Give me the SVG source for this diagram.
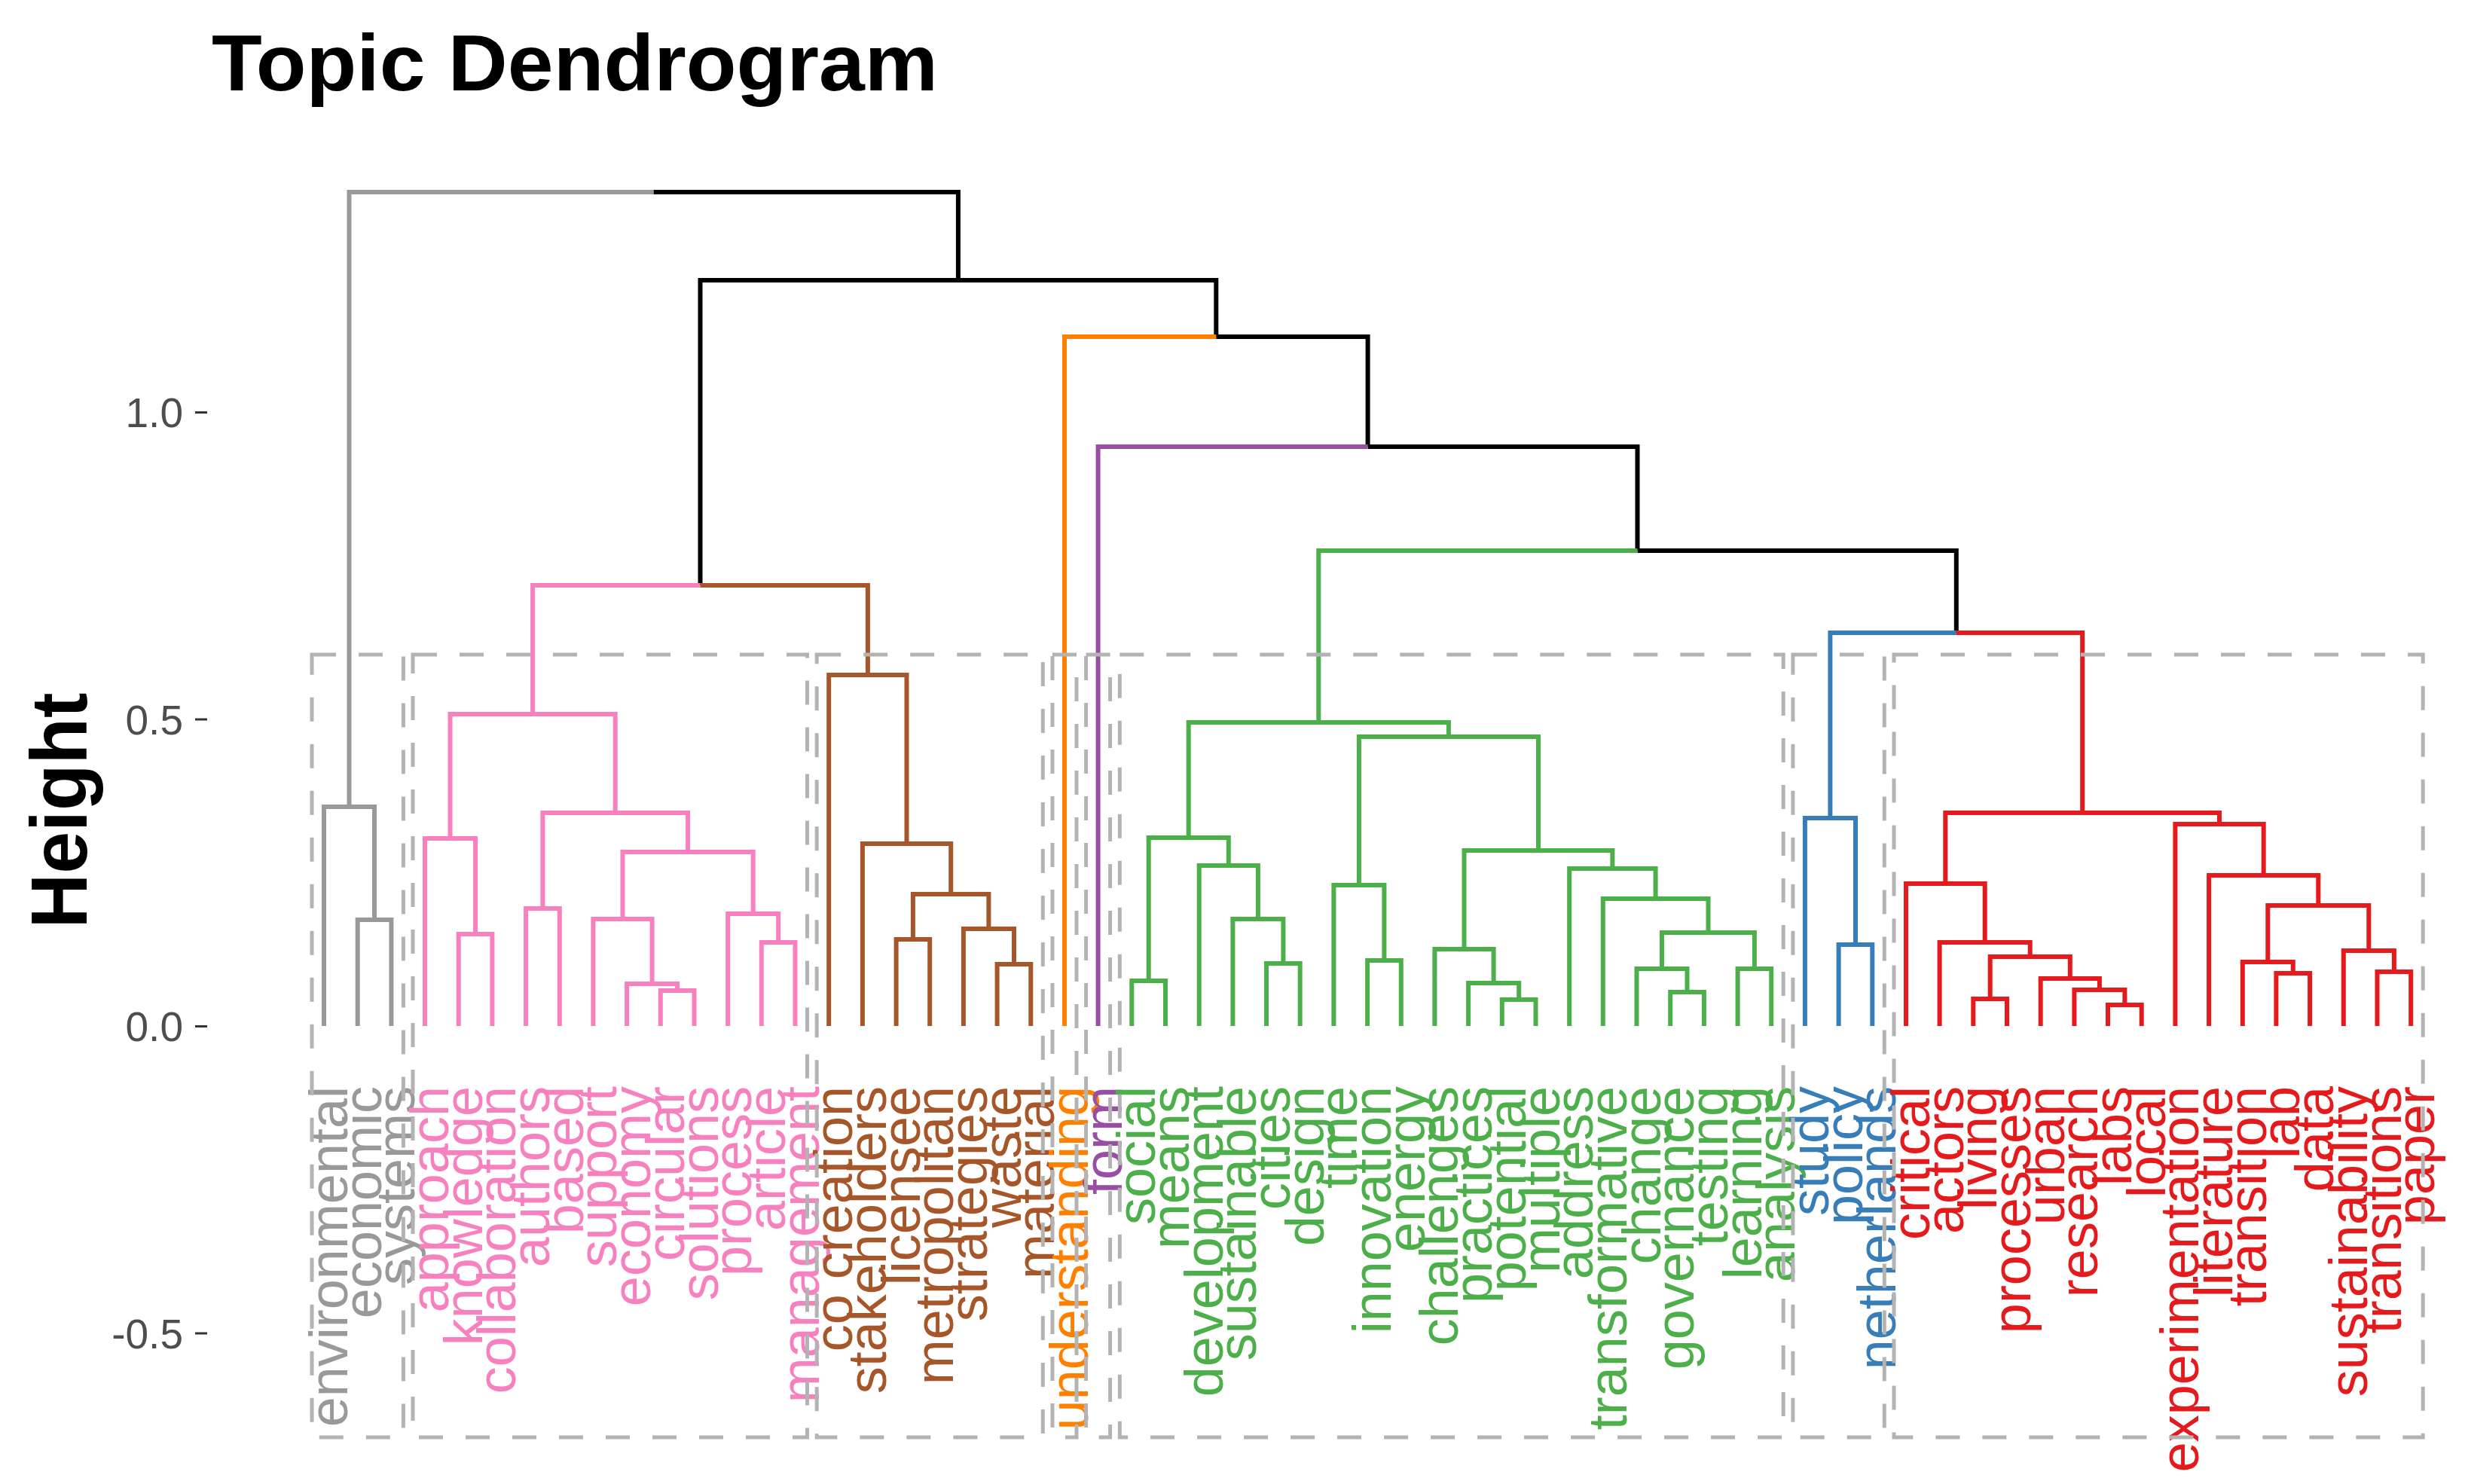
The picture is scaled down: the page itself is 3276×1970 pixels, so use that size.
<svg xmlns="http://www.w3.org/2000/svg" width="3276" height="1970" viewBox="0 0 3276 1970">
<style>
.br{fill:none;stroke-width:6;stroke-linejoin:miter;stroke-linecap:butt}
.gy{stroke:#999999}.bk{stroke:#000000}.or{stroke:#FF7F00}.pu{stroke:#984EA3}
.pk{stroke:#F781BF}.bn{stroke:#A65628}.gn{stroke:#4DAF4A}.bl{stroke:#377EB8}.rd{stroke:#E41A1C}
.lb{font-family:"Liberation Sans",Arial,sans-serif;font-size:72px;text-anchor:end}
.tgy{fill:#999999}.tpk{fill:#F781BF}.tbn{fill:#A65628}.tor{fill:#FF7F00}.tpu{fill:#984EA3}.tgn{fill:#4DAF4A}.tbl{fill:#377EB8}.trd{fill:#E41A1C}
.rc{fill:none;stroke:#B3B3B3;stroke-width:5;stroke-dasharray:32 30}
.tk{font-family:"Liberation Sans",Arial,sans-serif;font-size:55px;fill:#4D4D4D;text-anchor:end}
.tm{stroke:#333333;stroke-width:3}
</style>
<rect width="3276" height="1970" fill="#FFFFFF"/>
<text x="281" y="120" font-family="Liberation Sans, Arial, sans-serif" font-weight="bold" font-size="106" textLength="964" lengthAdjust="spacingAndGlyphs" fill="#000000">Topic Dendrogram</text>
<g id="y-axis">
<text transform="translate(115,1076) rotate(-90)" font-family="Liberation Sans, Arial, sans-serif" font-weight="bold" font-size="106" text-anchor="middle" textLength="313" lengthAdjust="spacingAndGlyphs" fill="#000000">Height</text>
<text class="tk" x="243" y="567">1.0</text>
<text class="tk" x="243" y="975">0.5</text>
<text class="tk" x="243" y="1382">0.0</text>
<text class="tk" x="243" y="1790">-0.5</text>
<line class="tm" x1="259" y1="547.5" x2="275" y2="547.5"/>
<line class="tm" x1="259" y1="955" x2="275" y2="955"/>
<line class="tm" x1="259" y1="1362.5" x2="275" y2="1362.5"/>
<line class="tm" x1="259" y1="1770" x2="275" y2="1770"/>
</g>
<g id="connectors">
<path class="br gy" d="M867.7,255 H463.5 V1071 M463.5,1071 H430 V1362 M463.5,1071 H497 V1221 M497,1221 H474.7 V1362 M497,1221 H519.4 V1362"/>
<path class="br bk" d="M867.7,255 H1271.9 V372 M1271.9,372 H929.5 V777 M1271.9,372 H1614.3 V447 M1614.3,447 H1815.6 V593 M1815.6,593 H2173.5 V731 M2173.5,731 H2596.8 V840"/>
<path class="br or" d="M1614.3,447 H1413 V1362"/>
<path class="br pu" d="M1815.6,593 H1457.6 V1362"/>
<path class="br pk" d="M929.5,777 H707.1 V948 M707.1,948 H597.5 V1113 M707.1,948 H816.7 V1079 M597.5,1113 H564 V1362 M597.5,1113 H631.1 V1240 M631.1,1240 H608.7 V1362 M631.1,1240 H653.4 V1362 M816.7,1079 H720.4 V1206 M720.4,1206 H698.1 V1362 M720.4,1206 H742.8 V1362 M816.7,1079 H913.1 V1131 M913.1,1131 H826.5 V1220 M826.5,1220 H787.4 V1362 M826.5,1220 H865.6 V1306 M865.6,1306 H832.1 V1362 M865.6,1306 H899.1 V1315 M899.1,1315 H876.8 V1362 M899.1,1315 H921.5 V1362 M913.1,1131 H999.7 V1213 M999.7,1213 H966.2 V1362 M999.7,1213 H1033.2 V1251 M1033.2,1251 H1010.8 V1362 M1033.2,1251 H1055.5 V1362"/>
<path class="br bn" d="M929.5,777 H1151.9 V896 M1151.9,896 H1100.2 V1362 M1151.9,896 H1203.5 V1120 M1203.5,1120 H1144.9 V1362 M1203.5,1120 H1262.2 V1187 M1262.2,1187 H1211.9 V1247 M1211.9,1247 H1189.6 V1362 M1211.9,1247 H1234.2 V1362 M1262.2,1187 H1312.4 V1233 M1312.4,1233 H1278.9 V1362 M1312.4,1233 H1346 V1280 M1346,1280 H1323.6 V1362 M1346,1280 H1368.3 V1362"/>
<path class="br gn" d="M2173.5,731 H1750.3 V959 M1750.3,959 H1577.7 V1112 M1577.7,1112 H1524.7 V1302 M1524.7,1302 H1502.3 V1362 M1524.7,1302 H1547 V1362 M1577.7,1112 H1630.8 V1149 M1630.8,1149 H1591.7 V1362 M1630.8,1149 H1669.9 V1220 M1669.9,1220 H1636.4 V1362 M1669.9,1220 H1703.4 V1279 M1703.4,1279 H1681 V1362 M1703.4,1279 H1725.7 V1362 M1750.3,959 H1922.9 V978 M1922.9,978 H1803.9 V1175 M1803.9,1175 H1770.4 V1362 M1803.9,1175 H1837.4 V1275 M1837.4,1275 H1815.1 V1362 M1837.4,1275 H1859.8 V1362 M1922.9,978 H2042 V1129 M2042,1129 H1943.5 V1260 M1943.5,1260 H1904.4 V1362 M1943.5,1260 H1982.6 V1305 M1982.6,1305 H1949.1 V1362 M1982.6,1305 H2016.2 V1327 M2016.2,1327 H1993.8 V1362 M2016.2,1327 H2038.5 V1362 M2042,1129 H2140.4 V1153 M2140.4,1153 H2083.2 V1362 M2140.4,1153 H2197.6 V1193 M2197.6,1193 H2127.8 V1362 M2197.6,1193 H2267.5 V1238 M2267.5,1238 H2206 V1286 M2206,1286 H2172.5 V1362 M2206,1286 H2239.5 V1317 M2239.5,1317 H2217.2 V1362 M2239.5,1317 H2261.9 V1362 M2267.5,1238 H2328.9 V1286 M2328.9,1286 H2306.6 V1362 M2328.9,1286 H2351.2 V1362"/>
<path class="br bl" d="M2596.8,840 H2429.4 V1086 M2429.4,1086 H2395.9 V1362 M2429.4,1086 H2463 V1254 M2463,1254 H2440.6 V1362 M2463,1254 H2485.3 V1362"/>
<path class="br rd" d="M2596.8,840 H2764.2 V1079 M2764.2,1079 H2582.3 V1173 M2582.3,1173 H2530 V1362 M2582.3,1173 H2634.7 V1251 M2634.7,1251 H2574.6 V1362 M2634.7,1251 H2694.7 V1270 M2694.7,1270 H2641.7 V1326 M2641.7,1326 H2619.3 V1362 M2641.7,1326 H2664 V1362 M2694.7,1270 H2747.8 V1299 M2747.8,1299 H2708.7 V1362 M2747.8,1299 H2786.9 V1314 M2786.9,1314 H2753.4 V1362 M2786.9,1314 H2820.4 V1334 M2820.4,1334 H2798 V1362 M2820.4,1334 H2842.7 V1362 M2764.2,1079 H2946 V1094 M2946,1094 H2887.4 V1362 M2946,1094 H3004.7 V1162 M3004.7,1162 H2932.1 V1362 M3004.7,1162 H3077.3 V1202 M3077.3,1202 H3010.3 V1277 M3010.3,1277 H2976.8 V1362 M3010.3,1277 H3043.8 V1292 M3043.8,1292 H3021.4 V1362 M3043.8,1292 H3066.1 V1362 M3077.3,1202 H3144.3 V1262 M3144.3,1262 H3110.8 V1362 M3144.3,1262 H3177.9 V1290 M3177.9,1290 H3155.5 V1362 M3177.9,1290 H3200.2 V1362"/>
</g>
<g id="leaves">
<g id="leaf-environmental"><text class="lb tgy" transform="translate(461,1442) rotate(-90)">environmental</text></g>
<g id="leaf-economic"><text class="lb tgy" transform="translate(505.7,1442) rotate(-90)">economic</text></g>
<g id="leaf-systems"><text class="lb tgy" transform="translate(550.4,1442) rotate(-90)">systems</text></g>
<g id="leaf-approach"><text class="lb tpk" transform="translate(595,1442) rotate(-90)">approach</text></g>
<g id="leaf-knowledge"><text class="lb tpk" transform="translate(639.7,1442) rotate(-90)">knowledge</text></g>
<g id="leaf-collaboration"><text class="lb tpk" transform="translate(684.4,1442) rotate(-90)">collaboration</text></g>
<g id="leaf-authors"><text class="lb tpk" transform="translate(729.1,1442) rotate(-90)">authors</text></g>
<g id="leaf-based"><text class="lb tpk" transform="translate(773.8,1442) rotate(-90)">based</text></g>
<g id="leaf-support"><text class="lb tpk" transform="translate(818.4,1442) rotate(-90)">support</text></g>
<g id="leaf-economy"><text class="lb tpk" transform="translate(863.1,1442) rotate(-90)">economy</text></g>
<g id="leaf-circular"><text class="lb tpk" transform="translate(907.8,1442) rotate(-90)">circular</text></g>
<g id="leaf-solutions"><text class="lb tpk" transform="translate(952.5,1442) rotate(-90)">solutions</text></g>
<g id="leaf-process"><text class="lb tpk" transform="translate(997.2,1442) rotate(-90)">process</text></g>
<g id="leaf-article"><text class="lb tpk" transform="translate(1041.8,1442) rotate(-90)">article</text></g>
<g id="leaf-management"><text class="lb tpk" transform="translate(1086.5,1442) rotate(-90)">management</text></g>
<g id="leaf-co-creation"><text class="lb tbn" transform="translate(1131.2,1442) rotate(-90)">co creation</text></g>
<g id="leaf-stakeholders"><text class="lb tbn" transform="translate(1175.9,1442) rotate(-90)">stakeholders</text></g>
<g id="leaf-licensee"><text class="lb tbn" transform="translate(1220.6,1442) rotate(-90)">licensee</text></g>
<g id="leaf-metropolitan"><text class="lb tbn" transform="translate(1265.2,1442) rotate(-90)">metropolitan</text></g>
<g id="leaf-strategies"><text class="lb tbn" transform="translate(1309.9,1442) rotate(-90)">strategies</text></g>
<g id="leaf-waste"><text class="lb tbn" transform="translate(1354.6,1442) rotate(-90)">waste</text></g>
<g id="leaf-material"><text class="lb tbn" transform="translate(1399.3,1442) rotate(-90)">material</text></g>
<g id="leaf-understanding"><text class="lb tor" transform="translate(1444,1442) rotate(-90)">understanding</text></g>
<g id="leaf-form"><text class="lb tpu" transform="translate(1488.6,1442) rotate(-90)">form</text></g>
<g id="leaf-social"><text class="lb tgn" transform="translate(1533.3,1442) rotate(-90)">social</text></g>
<g id="leaf-means"><text class="lb tgn" transform="translate(1578,1442) rotate(-90)">means</text></g>
<g id="leaf-development"><text class="lb tgn" transform="translate(1622.7,1442) rotate(-90)">development</text></g>
<g id="leaf-sustainable"><text class="lb tgn" transform="translate(1667.4,1442) rotate(-90)">sustainable</text></g>
<g id="leaf-cities"><text class="lb tgn" transform="translate(1712,1442) rotate(-90)">cities</text></g>
<g id="leaf-design"><text class="lb tgn" transform="translate(1756.7,1442) rotate(-90)">design</text></g>
<g id="leaf-time"><text class="lb tgn" transform="translate(1801.4,1442) rotate(-90)">time</text></g>
<g id="leaf-innovation"><text class="lb tgn" transform="translate(1846.1,1442) rotate(-90)">innovation</text></g>
<g id="leaf-energy"><text class="lb tgn" transform="translate(1890.8,1442) rotate(-90)">energy</text></g>
<g id="leaf-challenges"><text class="lb tgn" transform="translate(1935.4,1442) rotate(-90)">challenges</text></g>
<g id="leaf-practices"><text class="lb tgn" transform="translate(1980.1,1442) rotate(-90)">practices</text></g>
<g id="leaf-potential"><text class="lb tgn" transform="translate(2024.8,1442) rotate(-90)">potential</text></g>
<g id="leaf-multiple"><text class="lb tgn" transform="translate(2069.5,1442) rotate(-90)">multiple</text></g>
<g id="leaf-address"><text class="lb tgn" transform="translate(2114.2,1442) rotate(-90)">address</text></g>
<g id="leaf-transformative"><text class="lb tgn" transform="translate(2158.8,1442) rotate(-90)">transformative</text></g>
<g id="leaf-change"><text class="lb tgn" transform="translate(2203.5,1442) rotate(-90)">change</text></g>
<g id="leaf-governance"><text class="lb tgn" transform="translate(2248.2,1442) rotate(-90)">governance</text></g>
<g id="leaf-testing"><text class="lb tgn" transform="translate(2292.9,1442) rotate(-90)">testing</text></g>
<g id="leaf-learning"><text class="lb tgn" transform="translate(2337.6,1442) rotate(-90)">learning</text></g>
<g id="leaf-analysis"><text class="lb tgn" transform="translate(2382.2,1442) rotate(-90)">analysis</text></g>
<g id="leaf-study"><text class="lb tbl" transform="translate(2426.9,1442) rotate(-90)">study</text></g>
<g id="leaf-policy"><text class="lb tbl" transform="translate(2471.6,1442) rotate(-90)">policy</text></g>
<g id="leaf-netherlands"><text class="lb tbl" transform="translate(2516.3,1442) rotate(-90)">netherlands</text></g>
<g id="leaf-critical"><text class="lb trd" transform="translate(2561,1442) rotate(-90)">critical</text></g>
<g id="leaf-actors"><text class="lb trd" transform="translate(2605.6,1442) rotate(-90)">actors</text></g>
<g id="leaf-living"><text class="lb trd" transform="translate(2650.3,1442) rotate(-90)">living</text></g>
<g id="leaf-processes"><text class="lb trd" transform="translate(2695,1442) rotate(-90)">processes</text></g>
<g id="leaf-urban"><text class="lb trd" transform="translate(2739.7,1442) rotate(-90)">urban</text></g>
<g id="leaf-research"><text class="lb trd" transform="translate(2784.4,1442) rotate(-90)">research</text></g>
<g id="leaf-labs"><text class="lb trd" transform="translate(2829,1442) rotate(-90)">labs</text></g>
<g id="leaf-local"><text class="lb trd" transform="translate(2873.7,1442) rotate(-90)">local</text></g>
<g id="leaf-experimentation"><text class="lb trd" transform="translate(2918.4,1442) rotate(-90)">experimentation</text></g>
<g id="leaf-literature"><text class="lb trd" transform="translate(2963.1,1442) rotate(-90)">literature</text></g>
<g id="leaf-transition"><text class="lb trd" transform="translate(3007.8,1442) rotate(-90)">transition</text></g>
<g id="leaf-lab"><text class="lb trd" transform="translate(3052.4,1442) rotate(-90)">lab</text></g>
<g id="leaf-data"><text class="lb trd" transform="translate(3097.1,1442) rotate(-90)">data</text></g>
<g id="leaf-sustainability"><text class="lb trd" transform="translate(3141.8,1442) rotate(-90)">sustainability</text></g>
<g id="leaf-transitions"><text class="lb trd" transform="translate(3186.5,1442) rotate(-90)">transitions</text></g>
<g id="leaf-paper"><text class="lb trd" transform="translate(3231.2,1442) rotate(-90)">paper</text></g>
</g>
<g id="cluster-boxes">
<rect class="rc" x="414" y="869" width="121.4" height="1039"/>
<rect class="rc" x="548" y="869" width="523.5" height="1039"/>
<rect class="rc" x="1084.2" y="869" width="300.1" height="1039"/>
<rect class="rc" x="1397" y="869" width="32" height="1039"/>
<rect class="rc" x="1441.6" y="869" width="32" height="1039"/>
<rect class="rc" x="1486.3" y="869" width="880.9" height="1039"/>
<rect class="rc" x="2379.9" y="869" width="121.4" height="1039"/>
<rect class="rc" x="2514" y="869" width="702.2" height="1039"/>
</g>
</svg>
